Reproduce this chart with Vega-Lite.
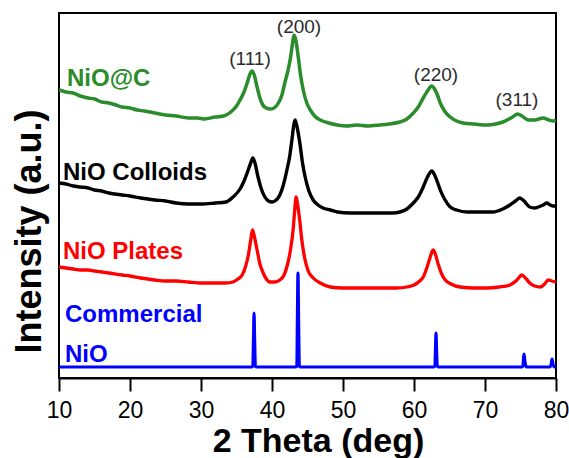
{
  "$schema": "https://vega.github.io/schema/vega-lite/v6.json",
  "width": 497,
  "height": 365,
  "autosize": {"type": "none"},
  "padding": {"left": 59, "top": 13, "right": 13, "bottom": 80},
  "background": "white",
  "config": {
    "view": {"stroke": "black", "strokeWidth": 2},
    "font": "Liberation Sans"
  },
  "datasets": {
    "xrd": [
      {"sample": "NiO@C", "theta": 10.0, "intensity": 288},
      {"sample": "NiO@C", "theta": 11.0, "intensity": 286},
      {"sample": "NiO@C", "theta": 12.0, "intensity": 285},
      {"sample": "NiO@C", "theta": 13.0, "intensity": 282},
      {"sample": "NiO@C", "theta": 14.1, "intensity": 280},
      {"sample": "NiO@C", "theta": 15.0, "intensity": 279},
      {"sample": "NiO@C", "theta": 16.0, "intensity": 276},
      {"sample": "NiO@C", "theta": 17.0, "intensity": 275},
      {"sample": "NiO@C", "theta": 18.0, "intensity": 273},
      {"sample": "NiO@C", "theta": 18.9, "intensity": 271},
      {"sample": "NiO@C", "theta": 20.0, "intensity": 270},
      {"sample": "NiO@C", "theta": 21.0, "intensity": 268},
      {"sample": "NiO@C", "theta": 22.0, "intensity": 267},
      {"sample": "NiO@C", "theta": 23.5, "intensity": 265},
      {"sample": "NiO@C", "theta": 25.0, "intensity": 263},
      {"sample": "NiO@C", "theta": 26.5, "intensity": 262},
      {"sample": "NiO@C", "theta": 28.2, "intensity": 260},
      {"sample": "NiO@C", "theta": 29.5, "intensity": 260},
      {"sample": "NiO@C", "theta": 30.5, "intensity": 259},
      {"sample": "NiO@C", "theta": 32.0, "intensity": 261},
      {"sample": "NiO@C", "theta": 33.2, "intensity": 262},
      {"sample": "NiO@C", "theta": 34.2, "intensity": 266},
      {"sample": "NiO@C", "theta": 35.0, "intensity": 272},
      {"sample": "NiO@C", "theta": 35.5, "intensity": 278},
      {"sample": "NiO@C", "theta": 36.0, "intensity": 285},
      {"sample": "NiO@C", "theta": 36.5, "intensity": 295},
      {"sample": "NiO@C", "theta": 36.9, "intensity": 304},
      {"sample": "NiO@C", "theta": 37.2, "intensity": 307},
      {"sample": "NiO@C", "theta": 37.5, "intensity": 303},
      {"sample": "NiO@C", "theta": 37.9, "intensity": 291},
      {"sample": "NiO@C", "theta": 38.3, "intensity": 280},
      {"sample": "NiO@C", "theta": 38.7, "intensity": 273},
      {"sample": "NiO@C", "theta": 39.2, "intensity": 270},
      {"sample": "NiO@C", "theta": 39.7, "intensity": 269},
      {"sample": "NiO@C", "theta": 40.3, "intensity": 270},
      {"sample": "NiO@C", "theta": 40.9, "intensity": 275},
      {"sample": "NiO@C", "theta": 41.4, "intensity": 283},
      {"sample": "NiO@C", "theta": 41.8, "intensity": 295},
      {"sample": "NiO@C", "theta": 42.2, "intensity": 306},
      {"sample": "NiO@C", "theta": 42.6, "intensity": 320},
      {"sample": "NiO@C", "theta": 42.9, "intensity": 335},
      {"sample": "NiO@C", "theta": 43.1, "intensity": 343},
      {"sample": "NiO@C", "theta": 43.35, "intensity": 338},
      {"sample": "NiO@C", "theta": 43.7, "intensity": 321},
      {"sample": "NiO@C", "theta": 44.0, "intensity": 304},
      {"sample": "NiO@C", "theta": 44.4, "intensity": 288},
      {"sample": "NiO@C", "theta": 44.9, "intensity": 275},
      {"sample": "NiO@C", "theta": 45.4, "intensity": 268},
      {"sample": "NiO@C", "theta": 46.0, "intensity": 262},
      {"sample": "NiO@C", "theta": 46.8, "intensity": 258},
      {"sample": "NiO@C", "theta": 48.0, "intensity": 255},
      {"sample": "NiO@C", "theta": 49.2, "intensity": 253},
      {"sample": "NiO@C", "theta": 50.5, "intensity": 252},
      {"sample": "NiO@C", "theta": 52.0, "intensity": 253},
      {"sample": "NiO@C", "theta": 53.5, "intensity": 252},
      {"sample": "NiO@C", "theta": 55.2, "intensity": 253},
      {"sample": "NiO@C", "theta": 56.5, "intensity": 254},
      {"sample": "NiO@C", "theta": 58.0, "intensity": 256},
      {"sample": "NiO@C", "theta": 59.0, "intensity": 259},
      {"sample": "NiO@C", "theta": 59.9, "intensity": 265},
      {"sample": "NiO@C", "theta": 60.6, "intensity": 271},
      {"sample": "NiO@C", "theta": 61.3, "intensity": 280},
      {"sample": "NiO@C", "theta": 61.9, "intensity": 287},
      {"sample": "NiO@C", "theta": 62.5, "intensity": 292},
      {"sample": "NiO@C", "theta": 62.9, "intensity": 289},
      {"sample": "NiO@C", "theta": 63.3, "intensity": 283},
      {"sample": "NiO@C", "theta": 63.7, "intensity": 275},
      {"sample": "NiO@C", "theta": 64.3, "intensity": 267},
      {"sample": "NiO@C", "theta": 65.1, "intensity": 261},
      {"sample": "NiO@C", "theta": 66.0, "intensity": 257},
      {"sample": "NiO@C", "theta": 66.9, "intensity": 255},
      {"sample": "NiO@C", "theta": 68.5, "intensity": 254},
      {"sample": "NiO@C", "theta": 70.3, "intensity": 253},
      {"sample": "NiO@C", "theta": 71.5, "intensity": 254},
      {"sample": "NiO@C", "theta": 72.5, "intensity": 256},
      {"sample": "NiO@C", "theta": 73.1, "intensity": 258},
      {"sample": "NiO@C", "theta": 73.9, "intensity": 261},
      {"sample": "NiO@C", "theta": 74.6, "intensity": 264},
      {"sample": "NiO@C", "theta": 75.2, "intensity": 262},
      {"sample": "NiO@C", "theta": 76.1, "intensity": 258},
      {"sample": "NiO@C", "theta": 77.0, "intensity": 258},
      {"sample": "NiO@C", "theta": 78.2, "intensity": 260},
      {"sample": "NiO@C", "theta": 79.0, "intensity": 258},
      {"sample": "NiO@C", "theta": 79.6, "intensity": 257},
      {"sample": "NiO@C", "theta": 80.0, "intensity": 258},

      {"sample": "NiO Colloids", "theta": 10.0, "intensity": 195},
      {"sample": "NiO Colloids", "theta": 11.0, "intensity": 194},
      {"sample": "NiO Colloids", "theta": 12.0, "intensity": 192},
      {"sample": "NiO Colloids", "theta": 13.0, "intensity": 191},
      {"sample": "NiO Colloids", "theta": 14.1, "intensity": 190},
      {"sample": "NiO Colloids", "theta": 15.0, "intensity": 188},
      {"sample": "NiO Colloids", "theta": 16.0, "intensity": 187},
      {"sample": "NiO Colloids", "theta": 17.0, "intensity": 185},
      {"sample": "NiO Colloids", "theta": 18.9, "intensity": 183},
      {"sample": "NiO Colloids", "theta": 20.0, "intensity": 182},
      {"sample": "NiO Colloids", "theta": 21.5, "intensity": 180},
      {"sample": "NiO Colloids", "theta": 23.5, "intensity": 178},
      {"sample": "NiO Colloids", "theta": 25.0, "intensity": 177},
      {"sample": "NiO Colloids", "theta": 26.5, "intensity": 175},
      {"sample": "NiO Colloids", "theta": 28.2, "intensity": 174},
      {"sample": "NiO Colloids", "theta": 30.0, "intensity": 174},
      {"sample": "NiO Colloids", "theta": 32.0, "intensity": 175},
      {"sample": "NiO Colloids", "theta": 33.5, "intensity": 176},
      {"sample": "NiO Colloids", "theta": 34.5, "intensity": 181},
      {"sample": "NiO Colloids", "theta": 35.5, "intensity": 189},
      {"sample": "NiO Colloids", "theta": 36.0, "intensity": 196},
      {"sample": "NiO Colloids", "theta": 36.5, "intensity": 205},
      {"sample": "NiO Colloids", "theta": 37.0, "intensity": 215},
      {"sample": "NiO Colloids", "theta": 37.3, "intensity": 220},
      {"sample": "NiO Colloids", "theta": 37.6, "intensity": 215},
      {"sample": "NiO Colloids", "theta": 38.0, "intensity": 202},
      {"sample": "NiO Colloids", "theta": 38.5, "intensity": 189},
      {"sample": "NiO Colloids", "theta": 39.0, "intensity": 181},
      {"sample": "NiO Colloids", "theta": 39.5, "intensity": 177},
      {"sample": "NiO Colloids", "theta": 40.0, "intensity": 176},
      {"sample": "NiO Colloids", "theta": 40.6, "intensity": 178},
      {"sample": "NiO Colloids", "theta": 41.1, "intensity": 183},
      {"sample": "NiO Colloids", "theta": 41.6, "intensity": 193},
      {"sample": "NiO Colloids", "theta": 42.1, "intensity": 208},
      {"sample": "NiO Colloids", "theta": 42.5, "intensity": 222},
      {"sample": "NiO Colloids", "theta": 42.8, "intensity": 238},
      {"sample": "NiO Colloids", "theta": 43.05, "intensity": 252},
      {"sample": "NiO Colloids", "theta": 43.25, "intensity": 258},
      {"sample": "NiO Colloids", "theta": 43.5, "intensity": 252},
      {"sample": "NiO Colloids", "theta": 43.9, "intensity": 236},
      {"sample": "NiO Colloids", "theta": 44.3, "intensity": 215},
      {"sample": "NiO Colloids", "theta": 44.7, "intensity": 200},
      {"sample": "NiO Colloids", "theta": 45.2, "intensity": 187},
      {"sample": "NiO Colloids", "theta": 45.8, "intensity": 178},
      {"sample": "NiO Colloids", "theta": 46.5, "intensity": 173},
      {"sample": "NiO Colloids", "theta": 47.2, "intensity": 170},
      {"sample": "NiO Colloids", "theta": 48.2, "intensity": 168},
      {"sample": "NiO Colloids", "theta": 49.2, "intensity": 166},
      {"sample": "NiO Colloids", "theta": 51.0, "intensity": 165},
      {"sample": "NiO Colloids", "theta": 53.0, "intensity": 165},
      {"sample": "NiO Colloids", "theta": 55.2, "intensity": 165},
      {"sample": "NiO Colloids", "theta": 57.0, "intensity": 165},
      {"sample": "NiO Colloids", "theta": 58.0, "intensity": 166},
      {"sample": "NiO Colloids", "theta": 59.0, "intensity": 169},
      {"sample": "NiO Colloids", "theta": 59.9, "intensity": 175},
      {"sample": "NiO Colloids", "theta": 60.6, "intensity": 181},
      {"sample": "NiO Colloids", "theta": 61.3, "intensity": 191},
      {"sample": "NiO Colloids", "theta": 61.9, "intensity": 201},
      {"sample": "NiO Colloids", "theta": 62.5, "intensity": 207},
      {"sample": "NiO Colloids", "theta": 62.9, "intensity": 203},
      {"sample": "NiO Colloids", "theta": 63.3, "intensity": 196},
      {"sample": "NiO Colloids", "theta": 63.7, "intensity": 188},
      {"sample": "NiO Colloids", "theta": 64.3, "intensity": 179},
      {"sample": "NiO Colloids", "theta": 65.1, "intensity": 171},
      {"sample": "NiO Colloids", "theta": 66.0, "intensity": 168},
      {"sample": "NiO Colloids", "theta": 67.5, "intensity": 166},
      {"sample": "NiO Colloids", "theta": 69.5, "intensity": 166},
      {"sample": "NiO Colloids", "theta": 71.1, "intensity": 166},
      {"sample": "NiO Colloids", "theta": 72.5, "intensity": 169},
      {"sample": "NiO Colloids", "theta": 73.5, "intensity": 173},
      {"sample": "NiO Colloids", "theta": 74.3, "intensity": 177},
      {"sample": "NiO Colloids", "theta": 74.9, "intensity": 180},
      {"sample": "NiO Colloids", "theta": 75.5, "intensity": 177},
      {"sample": "NiO Colloids", "theta": 76.3, "intensity": 171},
      {"sample": "NiO Colloids", "theta": 77.0, "intensity": 170},
      {"sample": "NiO Colloids", "theta": 77.5, "intensity": 171},
      {"sample": "NiO Colloids", "theta": 78.2, "intensity": 173},
      {"sample": "NiO Colloids", "theta": 78.7, "intensity": 175},
      {"sample": "NiO Colloids", "theta": 79.2, "intensity": 173},
      {"sample": "NiO Colloids", "theta": 79.6, "intensity": 172},
      {"sample": "NiO Colloids", "theta": 80.0, "intensity": 172},

      {"sample": "NiO Plates", "theta": 10.0, "intensity": 111},
      {"sample": "NiO Plates", "theta": 11.0, "intensity": 110},
      {"sample": "NiO Plates", "theta": 12.0, "intensity": 109},
      {"sample": "NiO Plates", "theta": 13.0, "intensity": 108},
      {"sample": "NiO Plates", "theta": 14.1, "intensity": 108},
      {"sample": "NiO Plates", "theta": 15.0, "intensity": 107},
      {"sample": "NiO Plates", "theta": 16.0, "intensity": 106},
      {"sample": "NiO Plates", "theta": 17.0, "intensity": 105},
      {"sample": "NiO Plates", "theta": 18.9, "intensity": 103},
      {"sample": "NiO Plates", "theta": 20.0, "intensity": 102},
      {"sample": "NiO Plates", "theta": 21.5, "intensity": 100},
      {"sample": "NiO Plates", "theta": 23.5, "intensity": 98},
      {"sample": "NiO Plates", "theta": 25.0, "intensity": 97},
      {"sample": "NiO Plates", "theta": 26.5, "intensity": 97},
      {"sample": "NiO Plates", "theta": 28.2, "intensity": 96},
      {"sample": "NiO Plates", "theta": 30.0, "intensity": 95},
      {"sample": "NiO Plates", "theta": 32.0, "intensity": 95},
      {"sample": "NiO Plates", "theta": 33.5, "intensity": 95},
      {"sample": "NiO Plates", "theta": 34.5, "intensity": 96},
      {"sample": "NiO Plates", "theta": 35.2, "intensity": 99},
      {"sample": "NiO Plates", "theta": 35.8, "intensity": 103},
      {"sample": "NiO Plates", "theta": 36.3, "intensity": 112},
      {"sample": "NiO Plates", "theta": 36.7, "intensity": 124},
      {"sample": "NiO Plates", "theta": 37.0, "intensity": 138},
      {"sample": "NiO Plates", "theta": 37.25, "intensity": 148},
      {"sample": "NiO Plates", "theta": 37.5, "intensity": 142},
      {"sample": "NiO Plates", "theta": 37.9, "intensity": 128},
      {"sample": "NiO Plates", "theta": 38.3, "intensity": 114},
      {"sample": "NiO Plates", "theta": 38.7, "intensity": 106},
      {"sample": "NiO Plates", "theta": 39.2, "intensity": 99},
      {"sample": "NiO Plates", "theta": 39.7, "intensity": 96},
      {"sample": "NiO Plates", "theta": 40.4, "intensity": 96},
      {"sample": "NiO Plates", "theta": 41.1, "intensity": 98},
      {"sample": "NiO Plates", "theta": 41.7, "intensity": 103},
      {"sample": "NiO Plates", "theta": 42.2, "intensity": 114},
      {"sample": "NiO Plates", "theta": 42.6, "intensity": 128},
      {"sample": "NiO Plates", "theta": 43.0, "intensity": 150},
      {"sample": "NiO Plates", "theta": 43.2, "intensity": 168},
      {"sample": "NiO Plates", "theta": 43.4, "intensity": 181},
      {"sample": "NiO Plates", "theta": 43.6, "intensity": 174},
      {"sample": "NiO Plates", "theta": 43.9, "intensity": 158},
      {"sample": "NiO Plates", "theta": 44.2, "intensity": 138},
      {"sample": "NiO Plates", "theta": 44.6, "intensity": 120},
      {"sample": "NiO Plates", "theta": 45.1, "intensity": 107},
      {"sample": "NiO Plates", "theta": 45.8, "intensity": 100},
      {"sample": "NiO Plates", "theta": 46.8, "intensity": 95},
      {"sample": "NiO Plates", "theta": 48.2, "intensity": 91},
      {"sample": "NiO Plates", "theta": 50.0, "intensity": 90},
      {"sample": "NiO Plates", "theta": 52.0, "intensity": 90},
      {"sample": "NiO Plates", "theta": 55.2, "intensity": 90},
      {"sample": "NiO Plates", "theta": 57.5, "intensity": 90},
      {"sample": "NiO Plates", "theta": 59.0, "intensity": 91},
      {"sample": "NiO Plates", "theta": 60.0, "intensity": 93},
      {"sample": "NiO Plates", "theta": 60.8, "intensity": 97},
      {"sample": "NiO Plates", "theta": 61.3, "intensity": 101},
      {"sample": "NiO Plates", "theta": 61.8, "intensity": 110},
      {"sample": "NiO Plates", "theta": 62.2, "intensity": 119},
      {"sample": "NiO Plates", "theta": 62.7, "intensity": 128},
      {"sample": "NiO Plates", "theta": 63.0, "intensity": 124},
      {"sample": "NiO Plates", "theta": 63.4, "intensity": 114},
      {"sample": "NiO Plates", "theta": 63.9, "intensity": 104},
      {"sample": "NiO Plates", "theta": 64.4, "intensity": 98},
      {"sample": "NiO Plates", "theta": 65.2, "intensity": 94},
      {"sample": "NiO Plates", "theta": 66.5, "intensity": 91},
      {"sample": "NiO Plates", "theta": 68.5, "intensity": 90},
      {"sample": "NiO Plates", "theta": 70.3, "intensity": 90},
      {"sample": "NiO Plates", "theta": 72.0, "intensity": 91},
      {"sample": "NiO Plates", "theta": 73.5, "intensity": 93},
      {"sample": "NiO Plates", "theta": 74.5, "intensity": 98},
      {"sample": "NiO Plates", "theta": 75.2, "intensity": 103},
      {"sample": "NiO Plates", "theta": 75.7, "intensity": 100},
      {"sample": "NiO Plates", "theta": 76.3, "intensity": 95},
      {"sample": "NiO Plates", "theta": 77.0, "intensity": 92},
      {"sample": "NiO Plates", "theta": 77.8, "intensity": 91},
      {"sample": "NiO Plates", "theta": 78.4, "intensity": 94},
      {"sample": "NiO Plates", "theta": 78.9, "intensity": 98},
      {"sample": "NiO Plates", "theta": 79.4, "intensity": 97},
      {"sample": "NiO Plates", "theta": 80.0, "intensity": 96},

      {"sample": "Commercial NiO", "theta": 10.0, "intensity": 11},
      {"sample": "Commercial NiO", "theta": 37.1, "intensity": 11},
      {"sample": "Commercial NiO", "theta": 37.3, "intensity": 12},
      {"sample": "Commercial NiO", "theta": 37.4, "intensity": 40},
      {"sample": "Commercial NiO", "theta": 37.47, "intensity": 65},
      {"sample": "Commercial NiO", "theta": 37.55, "intensity": 40},
      {"sample": "Commercial NiO", "theta": 37.65, "intensity": 12},
      {"sample": "Commercial NiO", "theta": 37.85, "intensity": 11},
      {"sample": "Commercial NiO", "theta": 43.3, "intensity": 11},
      {"sample": "Commercial NiO", "theta": 43.5, "intensity": 12},
      {"sample": "Commercial NiO", "theta": 43.58, "intensity": 60},
      {"sample": "Commercial NiO", "theta": 43.66, "intensity": 105},
      {"sample": "Commercial NiO", "theta": 43.74, "intensity": 60},
      {"sample": "Commercial NiO", "theta": 43.85, "intensity": 12},
      {"sample": "Commercial NiO", "theta": 44.05, "intensity": 11},
      {"sample": "Commercial NiO", "theta": 62.75, "intensity": 11},
      {"sample": "Commercial NiO", "theta": 62.95, "intensity": 12},
      {"sample": "Commercial NiO", "theta": 63.03, "intensity": 30},
      {"sample": "Commercial NiO", "theta": 63.1, "intensity": 45},
      {"sample": "Commercial NiO", "theta": 63.17, "intensity": 30},
      {"sample": "Commercial NiO", "theta": 63.27, "intensity": 12},
      {"sample": "Commercial NiO", "theta": 63.45, "intensity": 11},
      {"sample": "Commercial NiO", "theta": 75.15, "intensity": 11},
      {"sample": "Commercial NiO", "theta": 75.35, "intensity": 12},
      {"sample": "Commercial NiO", "theta": 75.43, "intensity": 20},
      {"sample": "Commercial NiO", "theta": 75.5, "intensity": 24},
      {"sample": "Commercial NiO", "theta": 75.6, "intensity": 18},
      {"sample": "Commercial NiO", "theta": 75.75, "intensity": 12},
      {"sample": "Commercial NiO", "theta": 75.9, "intensity": 11},
      {"sample": "Commercial NiO", "theta": 79.1, "intensity": 11},
      {"sample": "Commercial NiO", "theta": 79.3, "intensity": 13},
      {"sample": "Commercial NiO", "theta": 79.44, "intensity": 19},
      {"sample": "Commercial NiO", "theta": 79.6, "intensity": 13},
      {"sample": "Commercial NiO", "theta": 79.8, "intensity": 11},
      {"sample": "Commercial NiO", "theta": 80.0, "intensity": 11}
    ],
    "names": [
      {"sample": "NiO@C", "text": "NiO@C", "theta": 11.13, "intensity": 299},
      {"sample": "NiO Colloids", "text": "NiO Colloids", "theta": 10.56, "intensity": 205},
      {"sample": "NiO Plates", "text": "NiO Plates", "theta": 10.56, "intensity": 126},
      {"sample": "Commercial NiO", "text": "Commercial", "theta": 10.85, "intensity": 63},
      {"sample": "Commercial NiO", "text": "NiO", "theta": 10.85, "intensity": 23}
    ],
    "planes": [
      {"hkl": "(111)", "theta": 36.9, "intensity": 319},
      {"hkl": "(200)", "theta": 43.8, "intensity": 351},
      {"hkl": "(220)", "theta": 63.1, "intensity": 303},
      {"hkl": "(311)", "theta": 74.5, "intensity": 278}
    ]
  },
  "layer": [
    {
      "data": {"name": "xrd"},
      "mark": {"type": "line", "interpolate": "monotone", "clip": true},
      "encoding": {
        "x": {
          "field": "theta",
          "type": "quantitative",
          "scale": {"domain": [10, 80], "nice": false, "zero": false},
          "axis": {
            "title": "2 Theta (deg)",
            "values": [10, 15, 20, 25, 30, 35, 40, 45, 50, 55, 60, 65, 70, 75, 80],
            "labelExpr": "datum.value % 10 === 0 ? datum.label : ''",
            "grid": false,
            "domainColor": "black",
            "domainWidth": 2,
            "tickColor": "black",
            "tickWidth": 2,
            "tickSize": {"condition": {"test": "datum.value % 10 === 0", "value": 13}, "value": 8},
            "labelFont": "Liberation Sans",
            "labelFontSize": 23,
            "labelColor": "black",
            "labelPadding": 8,
            "labelFlush": false,
            "labelOverlap": false,
            "titleFont": "Liberation Sans",
            "titleFontSize": 34,
            "titleFontWeight": "bold",
            "titleColor": "black",
            "titleX": 259,
            "titleY": 73,
            "titleBaseline": "alphabetic",
            "titleAnchor": null,
            "titleAlign": "center"
          }
        },
        "y": {
          "field": "intensity",
          "type": "quantitative",
          "scale": {"domain": [0, 365], "nice": false},
          "axis": {
            "title": "Intensity (a.u.)",
            "labels": false,
            "ticks": false,
            "domain": false,
            "grid": false,
            "titleFont": "Liberation Sans",
            "titleFontSize": 36,
            "titleFontWeight": "bold",
            "titleColor": "black",
            "titleAngle": 270,
            "titleX": -30,
            "titleY": 218,
            "titleAlign": "center",
            "titleBaseline": "middle"
          }
        },
        "color": {
          "field": "sample",
          "type": "nominal",
          "scale": {
            "domain": ["NiO@C", "NiO Colloids", "NiO Plates", "Commercial NiO"],
            "range": ["#2a8c2a", "#000000", "#ff0000", "#0000ff"]
          },
          "legend": null
        },
        "strokeWidth": {
          "field": "sample",
          "type": "nominal",
          "scale": {
            "domain": ["NiO@C", "NiO Colloids", "NiO Plates", "Commercial NiO"],
            "range": [3.5, 3.2, 3.8, 2.6]
          },
          "legend": null
        }
      }
    },
    {
      "data": {"name": "names"},
      "mark": {"type": "text", "align": "left", "baseline": "middle", "font": "Liberation Sans", "fontSize": 24, "fontWeight": "bold"},
      "encoding": {
        "x": {"field": "theta", "type": "quantitative"},
        "y": {"field": "intensity", "type": "quantitative"},
        "text": {"field": "text"},
        "color": {"field": "sample", "type": "nominal", "legend": null}
      }
    },
    {
      "data": {"name": "planes"},
      "mark": {"type": "text", "align": "center", "baseline": "middle", "font": "Liberation Sans", "fontSize": 19, "color": "#2b2b2b"},
      "encoding": {
        "x": {"field": "theta", "type": "quantitative"},
        "y": {"field": "intensity", "type": "quantitative"},
        "text": {"field": "hkl"}
      }
    }
  ]
}
